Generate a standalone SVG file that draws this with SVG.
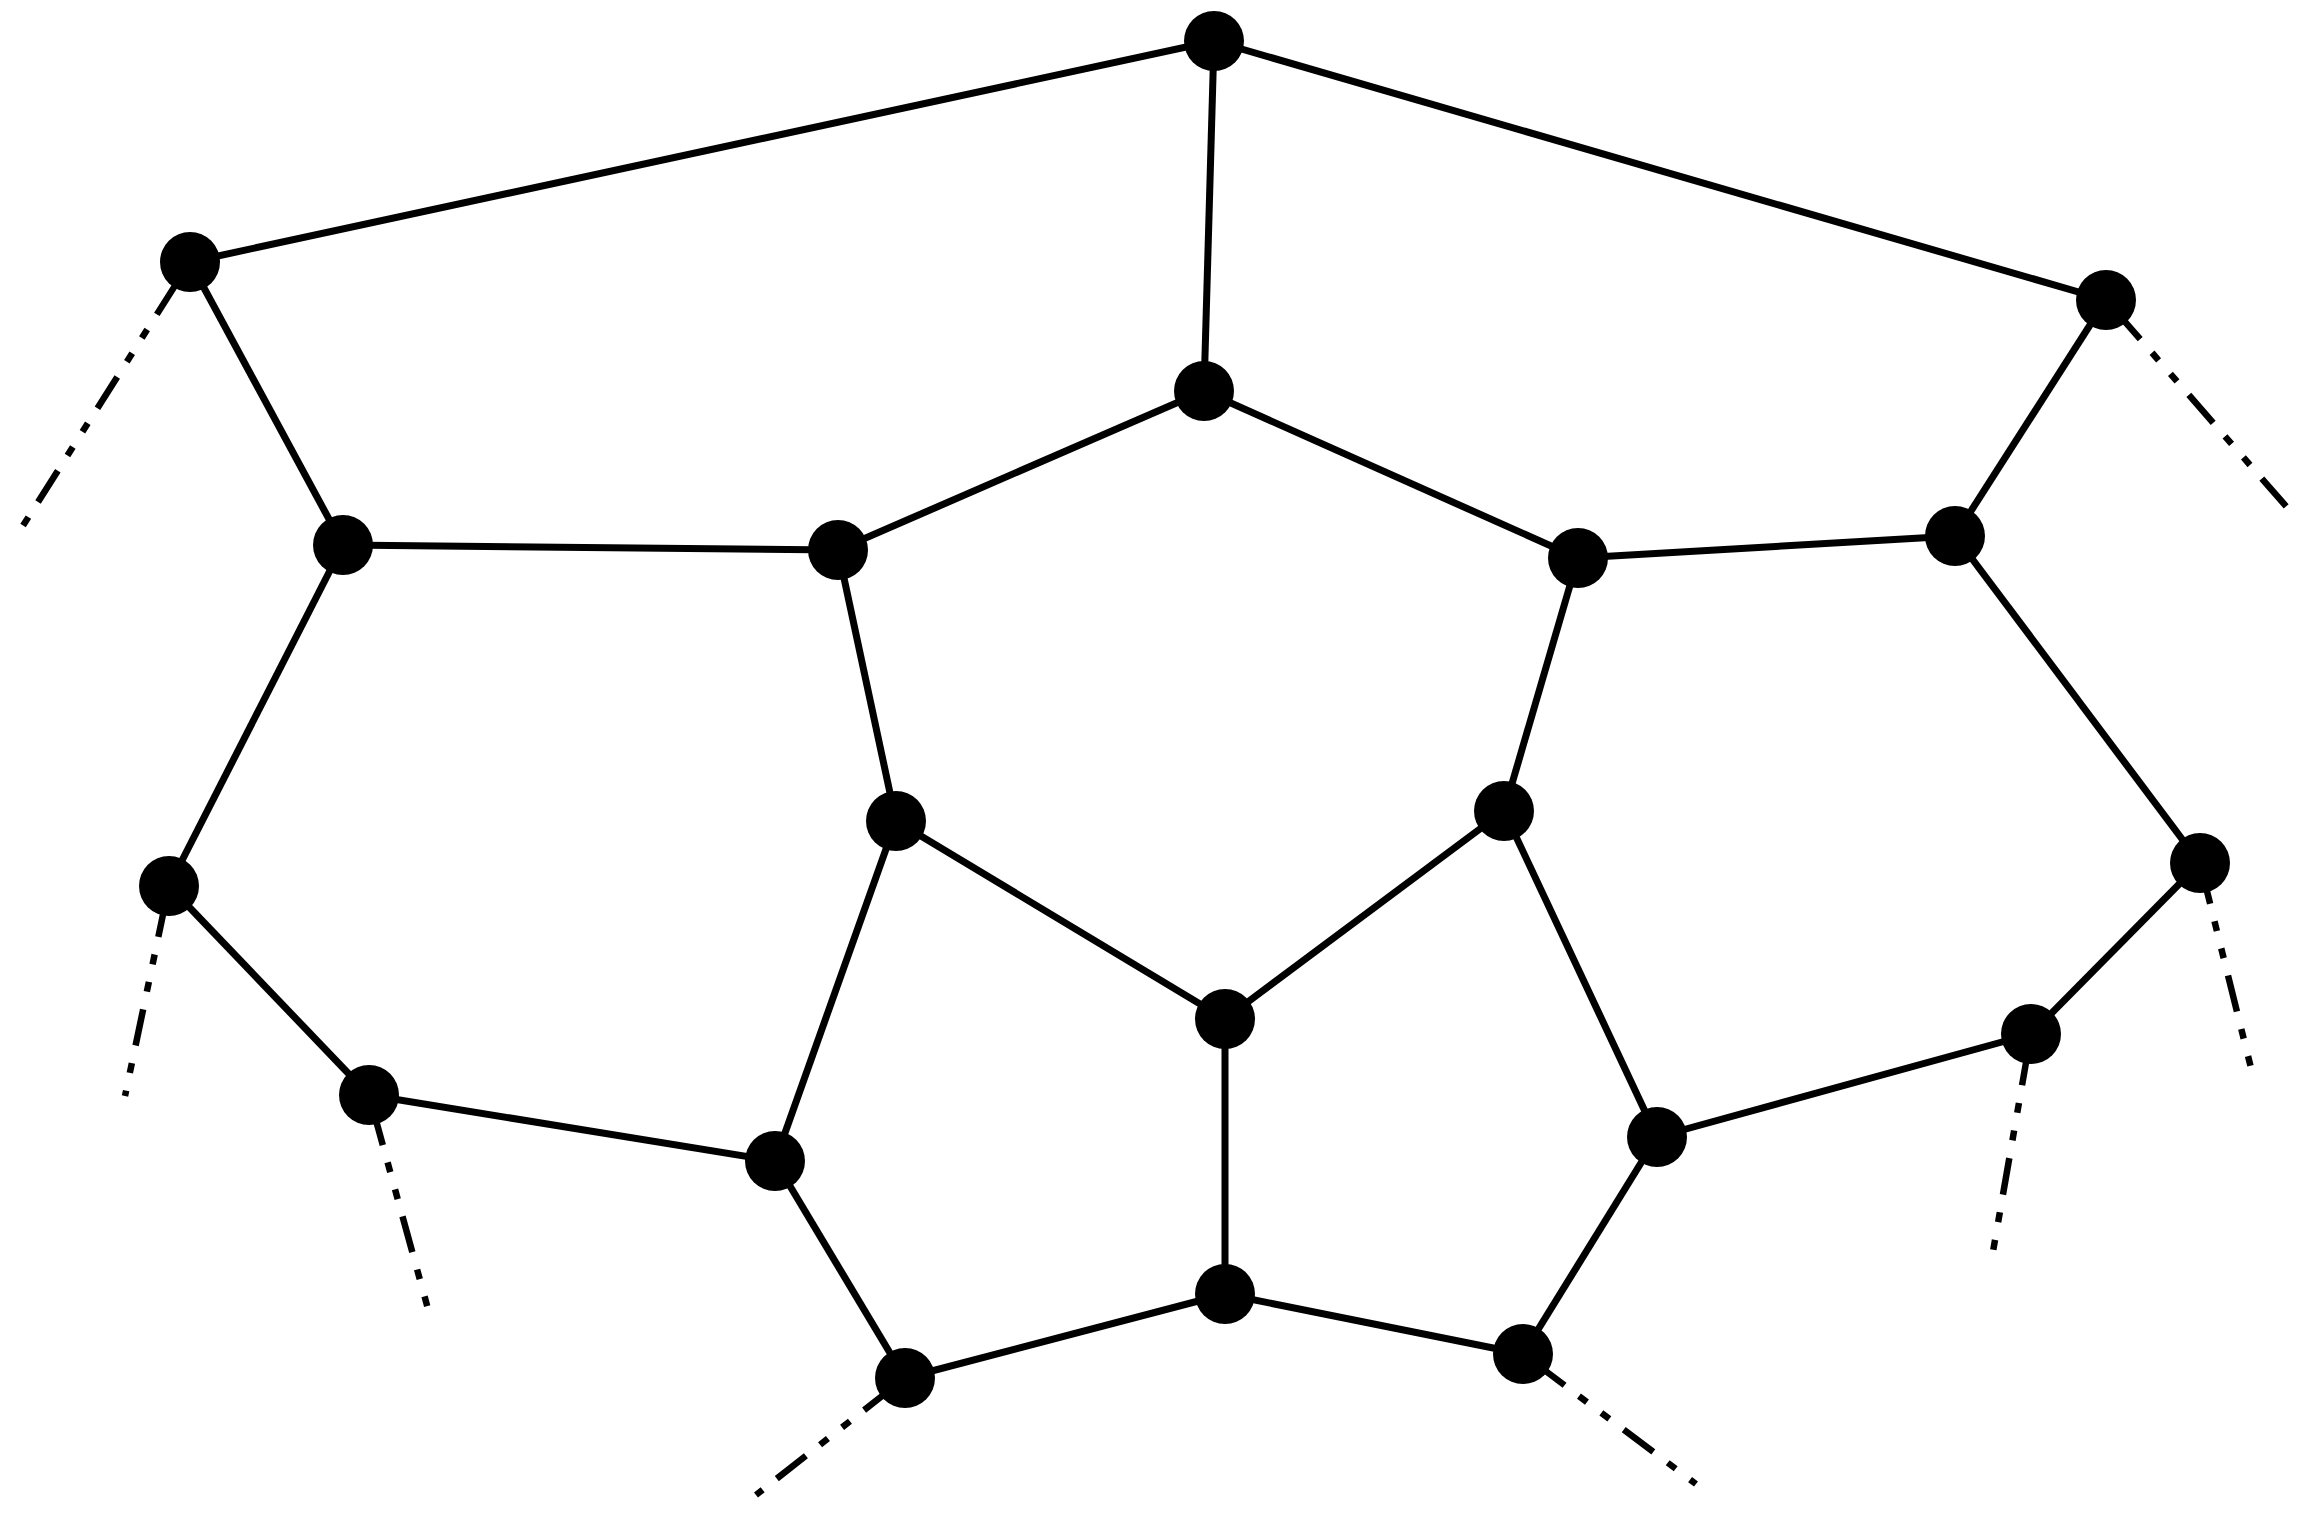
<svg xmlns="http://www.w3.org/2000/svg" width="2316" height="1513" viewBox="0 0 2316 1513">
<style>
.e{stroke:#000;stroke-width:7;fill:none}
.d{stroke:#000;stroke-width:6.5;fill:none;stroke-dasharray:37 18 10 18 10 18;stroke-dashoffset:96}
.n{fill:#000}
</style>
<rect width="2316" height="1513" fill="#fff"/>
<g id="connectors">
<line class="e" x1="1214" y1="41" x2="190" y2="262"/>
<line class="e" x1="1214" y1="41" x2="2106" y2="300"/>
<line class="e" x1="1214" y1="41" x2="1204" y2="391"/>
<line class="e" x1="190" y1="262" x2="343" y2="545"/>
<line class="e" x1="2106" y1="300" x2="1955" y2="536"/>
<line class="e" x1="1204" y1="391" x2="838" y2="550"/>
<line class="e" x1="1204" y1="391" x2="1578" y2="558"/>
<line class="e" x1="343" y1="545" x2="838" y2="550"/>
<line class="e" x1="1578" y1="558" x2="1955" y2="536"/>
<line class="e" x1="343" y1="545" x2="169" y2="886"/>
<line class="e" x1="838" y1="550" x2="896" y2="821"/>
<line class="e" x1="1578" y1="558" x2="1504" y2="811"/>
<line class="e" x1="1955" y1="536" x2="2200" y2="863"/>
<line class="e" x1="896" y1="821" x2="1225" y2="1019"/>
<line class="e" x1="1504" y1="811" x2="1225" y2="1019"/>
<line class="e" x1="896" y1="821" x2="775" y2="1161"/>
<line class="e" x1="1504" y1="811" x2="1657" y2="1137"/>
<line class="e" x1="169" y1="886" x2="369" y2="1095"/>
<line class="e" x1="2200" y1="863" x2="2031" y2="1034"/>
<line class="e" x1="369" y1="1095" x2="775" y2="1161"/>
<line class="e" x1="2031" y1="1034" x2="1657" y2="1137"/>
<line class="e" x1="1225" y1="1019" x2="1225" y2="1294"/>
<line class="e" x1="775" y1="1161" x2="905" y2="1378"/>
<line class="e" x1="1657" y1="1137" x2="1523" y2="1354"/>
<line class="e" x1="1225" y1="1294" x2="905" y2="1378"/>
<line class="e" x1="1225" y1="1294" x2="1523" y2="1354"/>
<line class="d" x1="190" y1="262" x2="19" y2="532" style="stroke-dashoffset:86"/>
<line class="d" x1="2106" y1="300" x2="2298" y2="520"/>
<line class="d" x1="169" y1="886" x2="125" y2="1096"/>
<line class="d" x1="369" y1="1095" x2="428" y2="1309"/>
<line class="d" x1="2200" y1="863" x2="2252" y2="1072" style="stroke-dashoffset:106"/>
<line class="d" x1="2031" y1="1034" x2="1991" y2="1263"/>
<line class="d" x1="905" y1="1378" x2="756" y2="1495"/>
<line class="d" x1="1523" y1="1354" x2="1696" y2="1484"/>
</g>
<g id="n1"><circle class="n" cx="1214" cy="41" r="30"/></g>
<g id="n2"><circle class="n" cx="190" cy="262" r="30"/></g>
<g id="n3"><circle class="n" cx="2106" cy="300" r="30"/></g>
<g id="n4"><circle class="n" cx="1204" cy="391" r="30"/></g>
<g id="n5"><circle class="n" cx="343" cy="545" r="30"/></g>
<g id="n6"><circle class="n" cx="838" cy="550" r="30"/></g>
<g id="n7"><circle class="n" cx="1578" cy="558" r="30"/></g>
<g id="n8"><circle class="n" cx="1955" cy="536" r="30"/></g>
<g id="n9"><circle class="n" cx="896" cy="821" r="30"/></g>
<g id="n10"><circle class="n" cx="1504" cy="811" r="30"/></g>
<g id="n11"><circle class="n" cx="169" cy="886" r="30"/></g>
<g id="n12"><circle class="n" cx="2200" cy="863" r="30"/></g>
<g id="n13"><circle class="n" cx="1225" cy="1019" r="30"/></g>
<g id="n14"><circle class="n" cx="369" cy="1095" r="30"/></g>
<g id="n15"><circle class="n" cx="775" cy="1161" r="30"/></g>
<g id="n16"><circle class="n" cx="2031" cy="1034" r="30"/></g>
<g id="n17"><circle class="n" cx="1657" cy="1137" r="30"/></g>
<g id="n18"><circle class="n" cx="1225" cy="1294" r="30"/></g>
<g id="n19"><circle class="n" cx="905" cy="1378" r="30"/></g>
<g id="n20"><circle class="n" cx="1523" cy="1354" r="30"/></g>
</svg>
